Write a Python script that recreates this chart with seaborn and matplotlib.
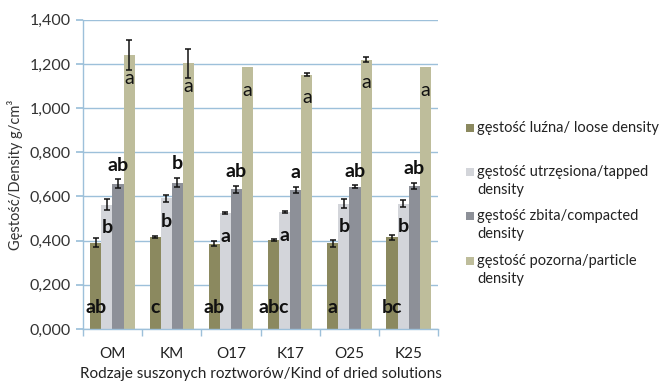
import matplotlib
matplotlib.use("Agg")
import matplotlib.pyplot as plt
from matplotlib.patches import Rectangle
import seaborn as sns
import pandas as pd
import numpy as np

sns.set_theme(style="white")
plt.rcParams['font.family'] = ['Lato', 'DejaVu Sans']

solutions = ["OM", "KM", "O17", "K17", "O25", "K25"]
series = [
    "gęstość luźna/ loose density",
    "gęstość utrzęsiona/tapped\ndensity",
    "gęstość zbita/compacted\ndensity",
    "gęstość pozorna/particle\ndensity",
]

loose = [0.390, 0.418, 0.386, 0.403, 0.387, 0.415]
tapped = [0.563, 0.592, 0.525, 0.528, 0.568, 0.568]
compacted = [0.657, 0.663, 0.632, 0.630, 0.645, 0.648]
particle = [1.241, 1.203, 1.187, 1.152, 1.220, 1.187]

loose_err = [0.020, 0.005, 0.010, 0.005, 0.015, 0.010]
tapped_err = [0.025, 0.015, 0.003, 0.004, 0.020, 0.015]
compacted_err = [0.020, 0.022, 0.015, 0.013, 0.005, 0.013]
particle_err = [0.068, 0.065, 0.0, 0.008, 0.010, 0.0]

loose_letters = ["ab", "c", "ab", "abc", "a", "bc"]
tapped_letters = ["b", "b", "a", "a", "b", "b"]
compacted_letters = ["ab", "b", "ab", "a", "ab", "ab"]
particle_letters = ["a", "a", "a", "a", "a", "a"]

colors = ["#8B895F", "#D3D5DA", "#8D9098", "#BEBD9B"]
grid_color = "#9DC0DA"

values = [loose, tapped, compacted, particle]
errors = [loose_err, tapped_err, compacted_err, particle_err]
letters = [loose_letters, tapped_letters, compacted_letters, particle_letters]

rows = []
for s, vals in zip(series, values):
    for sol, v in zip(solutions, vals):
        rows.append({"solution": sol, "series": s, "density": v})
df = pd.DataFrame(rows)

fig = plt.figure(figsize=(6.63, 3.82), dpi=100)
ax = fig.add_axes([0.125, 0.139, 0.536, 0.809])

sns.barplot(data=df, x="solution", y="density", hue="series",
            order=solutions, hue_order=series, palette=colors,
            errorbar=None, width=0.75, saturation=1, ax=ax,
            edgecolor="none", legend=False)

ax.set_ylim(0, 1.4)
ax.set_yticks(np.arange(0, 1.401, 0.2))
ax.set_yticklabels([f"{t:.3f}".replace(".", ",") for t in np.arange(0, 1.401, 0.2)])
ax.yaxis.grid(True, color=grid_color, linewidth=1)
ax.set_axisbelow(True)
ax.set_xlim(-0.5, len(solutions) - 0.5)

for side in ["top", "right"]:
    ax.spines[side].set_visible(False)
for side in ["left", "bottom"]:
    ax.spines[side].set_color(grid_color)
    ax.spines[side].set_linewidth(1)

# tick marks between category groups
ax.set_xticks(np.arange(-0.5, len(solutions), 1.0), minor=True)
ax.tick_params(axis="x", which="minor", length=5, color=grid_color, width=1, bottom=True)
ax.tick_params(axis="x", which="major", length=0, labelsize=11, pad=13, colors="#222222")
ax.tick_params(axis="y", length=5, color=grid_color, labelsize=11.5, colors="#333333", left=True)

ax.set_xlabel("Rodzaje suszonych roztworów/Kind of dried solutions", fontsize=11,
              color="#222222", labelpad=4)
ax.set_ylabel("Gęstość/Density g/cm³", fontsize=10.5, color="#333333", labelpad=5)

# error bars and significance letters on each bar
bar_groups = [c for c in ax.containers][:len(series)]
for k, cont in enumerate(bar_groups):
    for i, bar in enumerate(cont.patches):
        cx = bar.get_x() + bar.get_width() / 2
        h = bar.get_height()
        e = errors[k][i]
        if e > 0:
            ax.errorbar(cx, h, yerr=e, fmt="none", ecolor="#111111",
                        elinewidth=1.1, capsize=2.5, capthick=1.1)
        lab = letters[k][i]
        if k == 0:
            ax.text(cx, 0.095, lab, ha="center", va="center",
                    fontsize=14, fontweight="bold", color="#111111")
        elif k == 1:
            ax.text(cx, h - 0.105, lab, ha="center", va="center",
                    fontsize=14, fontweight="bold", color="#111111")
        elif k == 2:
            ax.text(cx, h + e + 0.065, lab, ha="center", va="center",
                    fontsize=14, fontweight="bold", color="#111111")
        else:
            ax.text(cx, h - 0.105, lab, ha="center", va="center",
                    fontsize=14, color="#111111")

# legend drawn at the right side of the figure
W, H = 663, 382
legend_rows = [
    (series[0], 128),
    (series[1], 181),
    (series[2], 225),
    (series[3], 270),
]
for (lab, yc), col in zip(legend_rows, colors):
    nlines = lab.count("\n") + 1
    ysq = yc - (nlines - 1) * 9
    fig.patches.append(Rectangle(((466) / W, 1 - (ysq + 4) / H), 8 / W, 8 / H,
                                 transform=fig.transFigure, facecolor=col,
                                 edgecolor="none"))
    fig.text(477 / W, 1 - yc / H, lab, ha="left", va="center", fontsize=10.5,
             color="#222222", linespacing=1.4)

fig.savefig("out.png", dpi=100)
